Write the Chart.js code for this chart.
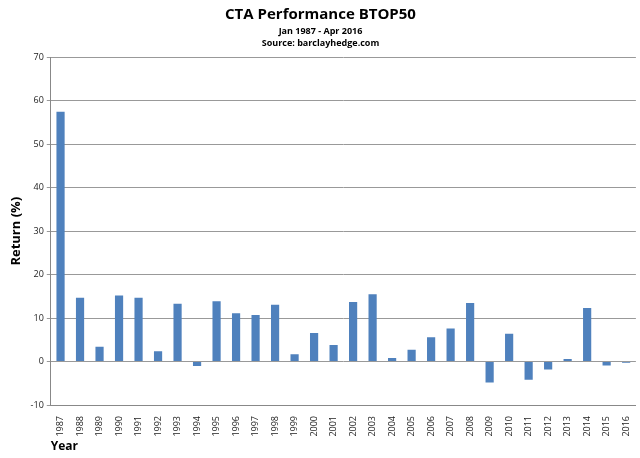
<!DOCTYPE html>
<html><head><meta charset="utf-8">
<script src="https://cdn.jsdelivr.net/npm/chart.js@4"></script>
<style>html,body{margin:0;padding:0;background:#fff}#w{width:640px;height:458px}</style>
</head><body><div id="w"><canvas id="c"></canvas></div>
<script>
const years = ["1987","1988","1989","1990","1991","1992","1993","1994","1995","1996","1997","1998","1999","2000","2001","2002","2003","2004","2005","2006","2007","2008","2009","2010","2011","2012","2013","2014","2015","2016"];
const returns = [57.5,14.7,3.4,15.2,14.7,2.4,13.3,-1.0,13.9,11.1,10.7,13.1,1.7,6.6,3.8,13.7,15.5,0.8,2.7,5.6,7.6,13.5,-4.8,6.4,-4.2,-1.8,0.6,12.3,-0.9,-0.3];
const font = "'Open Sans', 'DejaVu Sans', sans-serif";
new Chart(document.getElementById('c'), {
  type: 'bar',
  data: { labels: years, datasets: [{ data: returns, backgroundColor: '#4f81bd', borderColor: '#4f81bd', barPercentage: 0.42, categoryPercentage: 1 }] },
  options: {
    responsive: true, maintainAspectRatio: false, animation: false,
    layout: { padding: { left: 4, right: 3, top: 2, bottom: 0 } },
    plugins: {
      legend: { display: false }, tooltip: { enabled: false },
      title: { display: true, text: 'CTA Performance BTOP50', color: '#000', font: { family: font, size: 15, weight: 'bold' }, padding: { top: 4, bottom: 2 } },
      subtitle: { display: true, text: ['Jan 1987 - Apr 2016', 'Source: barclayhedge.com'], color: '#000', font: { family: font, size: 9, weight: 'bold', lineHeight: 1.3 }, padding: { bottom: 8 } }
    },
    scales: {
      x: {
        grid: { display: false, drawTicks: true },
        border: { color: '#888' },
        ticks: { color: '#222', font: { family: font, size: 9 }, minRotation: 90, maxRotation: 90, autoSkip: false },
        title: { display: true, text: 'Year', align: 'start', color: '#000', font: { family: font, size: 12, weight: 'bold' }, padding: { top: 0 } }
      },
      y: {
        min: -10, max: 70,
        ticks: { stepSize: 10, color: '#222', font: { family: font, size: 9 } },
        grid: { color: '#999', drawTicks: true, tickLength: 4 },
        border: { color: '#888' },
        title: { display: true, text: 'Return (%)', color: '#000', font: { family: font, size: 13, weight: 'bold' } }
      }
    }
  }
});
</script></body></html>
